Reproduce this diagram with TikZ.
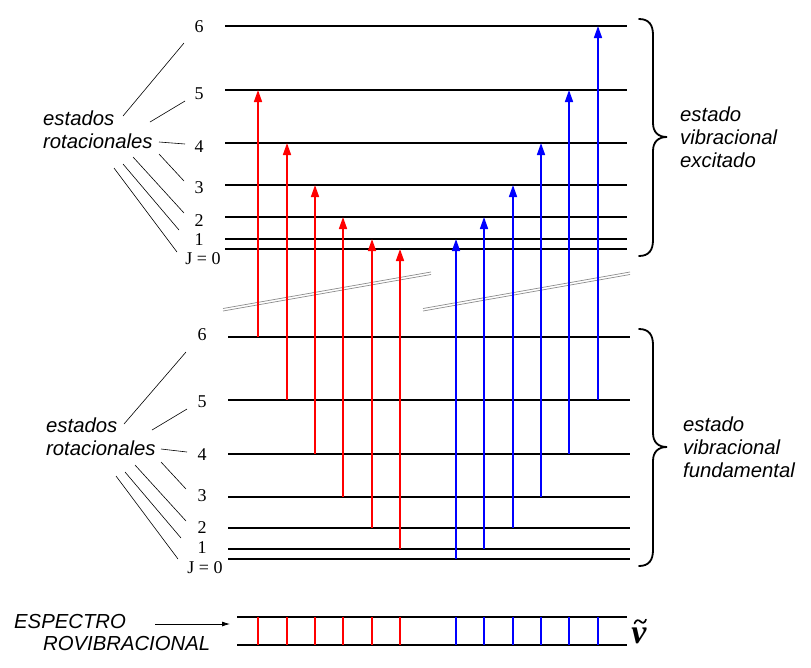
\documentclass[tikz,border=0pt]{standalone}
\usepackage{fontspec}
\setmainfont{Liberation Serif}
\newfontfamily\arialfont{Liberation Sans}
\usetikzlibrary{arrows.meta}
\begin{document}
\begin{tikzpicture}[x=1pt,y=-1pt,
  level/.style={line width=1.8pt},
  lead/.style={line width=0.6pt},
  num/.style={font=\fontsize{18}{18}\selectfont, inner sep=0pt},
  lbl/.style={font=\arialfont\itshape\fontsize{20.3}{23}\selectfont, inner sep=0pt, align=left, anchor=west},
  rarr/.style={line width=1.6pt, red, -{Triangle[length=12pt,width=8pt]}},
  barr/.style={line width=1.6pt, blue, -{Triangle[length=12pt,width=8pt]}},
  brk/.style={line width=0.7pt, black!45},
  bracest/.style={line width=1.8pt, line cap=round},
  spec/.style={line width=2pt},
  specr/.style={line width=1.8pt, red},
  specb/.style={line width=1.8pt, blue},
]
\useasboundingbox (0,0) rectangle (811,667);

% upper (excited) rotational levels
\foreach \j/\y in {0/249,1/239,2/217,3/185,4/143,5/90,6/26}{
  \coordinate (U\j) at (225,\y);
  \coordinate (UE\j) at (627,\y);
  \draw[level] (U\j) -- (UE\j);
}
% ground rotational levels
\foreach \j/\y in {0/559,1/549,2/528,3/497,4/454,5/400,6/337}{
  \coordinate (G\j) at (228,\y);
  \coordinate (GE\j) at (630,\y);
  \draw[level] (G\j) -- (GE\j);
}

% level labels (upper)
\node[num] (lu6) at (199,27) {6};
\node[num] (lu5) at (199,94) {5};
\node[num] (lu4) at (199,147) {4};
\node[num] (lu3) at (199,188) {3};
\node[num] (lu2) at (199,221) {2};
\node[num] (lu1) at (199,240) {1};
\node[num] (lu0) at (203,259) {J = 0};
% level labels (ground)
\node[num] (lg6) at (202,335) {6};
\node[num] (lg5) at (202,402) {5};
\node[num] (lg4) at (202,455) {4};
\node[num] (lg3) at (202,496) {3};
\node[num] (lg2) at (202,528) {2};
\node[num] (lg1) at (202,548) {1};
\node[num] (lg0) at (205,568) {J = 0};

% "estados rotacionales" labels
\node[lbl] (rotu) at (43,129.5) {estados\\rotacionales};
\node[lbl] (rotg) at (46,436.5) {estados\\rotacionales};

% leader lines (upper)
\draw[lead] (123,116) -- (184,43);
\draw[lead] (150,122) -- (185,101);
\draw[lead] (159,142) -- (185,144);
\draw[lead] (159,154) -- (184,181);
\draw[lead] (133,157) -- (184,213);
\draw[lead] (123,164) -- (179,230);
\draw[lead] (114,168) -- (177,252);
% leader lines (ground)
\draw[lead] (124,424) -- (186,352);
\draw[lead] (152,430) -- (187,409);
\draw[lead] (161,449) -- (187,452);
\draw[lead] (161,462) -- (186,489);
\draw[lead] (135,465) -- (186,521);
\draw[lead] (125,472) -- (181,538);
\draw[lead] (116,476) -- (178,559);

% break marks
\draw[brk] (223,308.5) -- (431,272);
\draw[brk] (223,311) -- (431,274.5);
\draw[brk] (423,308.5) -- (630,272);
\draw[brk] (423,311) -- (630,274.5);

% transitions: P branch (red)
\foreach \x/\j/\i in {258/6/5,287/5/4,315/4/3,343/3/2,372/2/1,400/1/0}{
  \coordinate (r\j) at (\x,0);
  \draw[rarr] (r\j |- G\j) -- (r\j |- U\i);
}
% transitions: R branch (blue)
\foreach \x/\j/\i in {456/0/1,484/1/2,513/2/3,541/3/4,569/4/5,598/5/6}{
  \coordinate (b\j) at (\x,0);
  \draw[barr] (b\j |- G\j) -- (b\j |- U\i);
}

% braces
\draw[bracest] (639,19) .. controls (649,19) and (653,25) .. (653,35) -- (653,123)
  .. controls (653,132) and (658,137) .. (667,137)
  .. controls (658,137) and (653,142) .. (653,151) -- (653,240)
  .. controls (653,250) and (649,256) .. (639,256);
\draw[bracest] (639,329) .. controls (649,329) and (653,335) .. (653,345) -- (653,433)
  .. controls (653,442) and (658,447) .. (667,447)
  .. controls (658,447) and (653,452) .. (653,461) -- (653,550)
  .. controls (653,560) and (649,566) .. (639,566);
\node[lbl] (exc) at (680,137.5) {estado\\vibracional\\excitado};
\node[lbl] (fun) at (683,447.5) {estado\\vibracional\\fundamental};

% spectrum
\coordinate (S1) at (237,617);
\coordinate (S1E) at (627,617);
\coordinate (S2) at (237,645);
\coordinate (S2E) at (627,645);
\draw[spec] (S1) -- (S1E);
\draw[spec] (S2) -- (S2E);
\foreach \j in {1,...,6}{
  \draw[specr] (r\j |- S1) -- (r\j |- S2);
}
\foreach \j in {0,...,5}{
  \draw[specb] (b\j |- S1) -- (b\j |- S2);
}
\node[inner sep=0pt, font=\fontsize{34}{34}\selectfont\bfseries\itshape] (nu) at (639,636) {ν};
\draw[line width=1.7pt, line cap=round] (634.5,623.5) .. controls (636,619.5) and (638.5,619.5) .. (640.5,621.5)
  .. controls (642.5,623.5) and (644.5,623.5) .. (646,619.5);

\node[lbl] (esp) at (14,622) {ESPECTRO};
\node[lbl] (rov) at (43,644) {ROVIBRACIONAL};
\coordinate (sa) at (155,624);
\coordinate (sb) at (230,624);
\draw[line width=0.8pt, -{Latex[length=8pt,width=5pt]}] (sa) -- (sb);
\end{tikzpicture}
\end{document}
